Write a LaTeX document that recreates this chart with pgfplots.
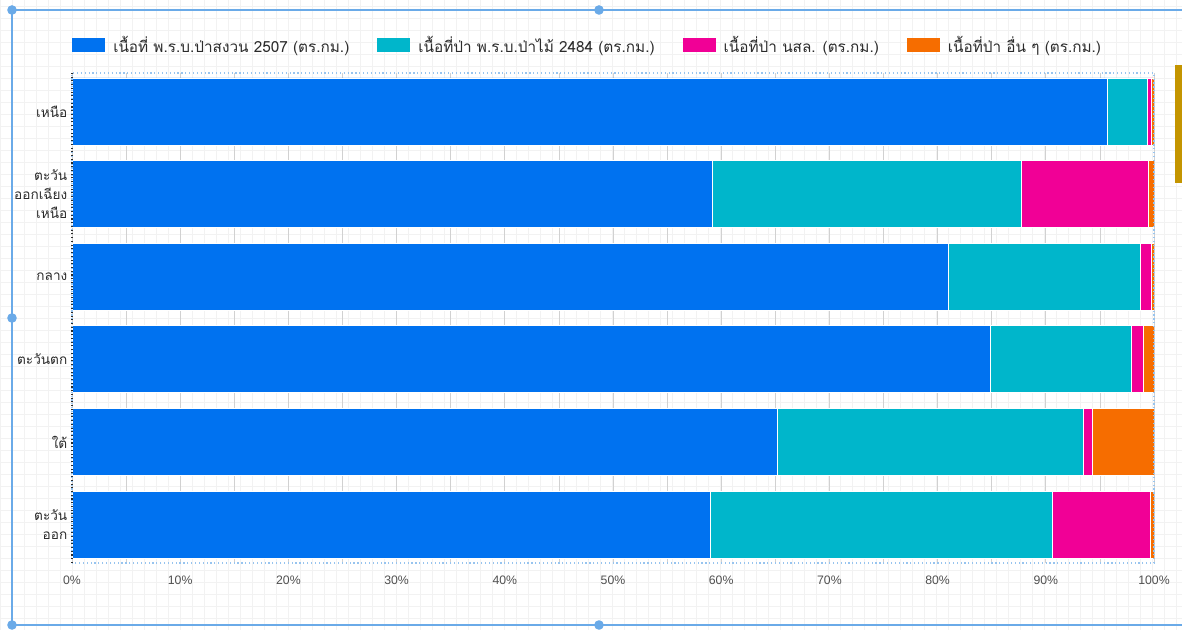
\documentclass[border=0pt]{standalone}
\usepackage{fontspec}
\setmainfont{Liberation Sans}
\newfontfamily\thaifont[Script=Thai]{Loma}
\usepackage{pgfplots}
\usepackage{pgfplotstable}
\pgfplotsset{compat=1.18}

\definecolor{cblue}{HTML}{0072F0}
\definecolor{cteal}{HTML}{00B6CB}
\definecolor{cmag}{HTML}{F10096}
\definecolor{corange}{HTML}{F66D00}
\definecolor{selframe}{HTML}{6AAAE8}
\definecolor{gold}{HTML}{C49500}
\definecolor{txt}{HTML}{2B2B2B}
\definecolor{ticktxt}{HTML}{505050}

% share of each region's forest area, percent
\pgfplotstableread{
cat reserve forestact nsl other
0 95.7 3.7 0.4 0.2
1 59.2 28.5 11.8 0.5
2 81.0 17.7 1.1 0.2
3 84.9 13.0 1.1 1.0
4 65.2 28.3 0.8 5.7
5 59.0 31.6 9.1 0.3
}\regions

\begin{document}
\begin{tikzpicture}
\useasboundingbox (0,0) rectangle (886.5pt,472.5pt);
% canvas grid
\draw[black!5, line width=0.4pt, step=9pt] (0,0) grid (886.5pt,472.5pt);

\begin{axis}[
  at={(54pt,50.25pt)}, anchor=south west,
  scale only axis, width=811.5pt, height=367.5pt,
  xbar stacked, bar width=50.25pt,
  y dir=reverse,
  xmin=0, xmax=100, ymin=-0.466, ymax=5.464,
  xtick={0,10,...,100},
  minor xtick={5,15,...,95},
  xticklabel={\pgfmathprintnumber[assume math mode=true]{\tick}\%},
  xticklabel style={font=\fontsize{9.2}{11}\selectfont, text=ticktxt, yshift=-6pt},
  ytick={0,...,5},
  yticklabels={เหนือ, {ตะวัน\\ออกเฉียง\\เหนือ}, กลาง, ตะวันตก, ใต้, {ตะวัน\\ออก}},
  yticklabel style={font=\thaifont\fontsize{10.2}{14.25}\selectfont, align=right, text=txt},
  major tick length=0pt, minor tick length=0pt,
  xmajorgrids, xminorgrids,
  major grid style={black!18, line width=0.6pt},
  minor grid style={black!18, line width=0.6pt},
  axis line style={draw=none},
  legend columns=4,
  legend image code/.code={\fill[#1, draw=none] (0pt,-5.6pt) rectangle (24.75pt,5.6pt);},
  legend style={at={(0,1.0571)}, anchor=west, draw=none, fill=none, inner sep=0pt,
    font=\thaifont\fontsize{11.5}{13}\selectfont, text=txt,
    /tikz/every odd column/.append style={column sep=4pt},
    /tikz/every even column/.append style={column sep=19pt}},
]
\addplot[fill=cblue, draw=white, line width=0.6pt] table[x=reserve, y=cat] {\regions};
\addplot[fill=cteal, draw=white, line width=0.6pt] table[x=forestact, y=cat] {\regions};
\addplot[fill=cmag, draw=white, line width=0.6pt] table[x=nsl, y=cat] {\regions};
\addplot[fill=corange, draw=white, line width=0.6pt] table[x=other, y=cat] {\regions};
\legend{เนื้อที่ พ.ร.บ.ป่าสงวน 2507 (ตร.กม.), เนื้อที่ป่า พ.ร.บ.ป่าไม้ 2484 (ตร.กม.), เนื้อที่ป่า นสล. (ตร.กม.), เนื้อที่ป่า อื่น ๆ (ตร.กม.)}
\end{axis}

% plot-area selection border
\draw[selframe!70, dotted, line width=0.9pt] (54pt,50.25pt) rectangle (865.5pt,417.75pt);
\draw[txt, dotted, line width=0.8pt] (54pt,50.25pt) -- (54pt,417.75pt);

% editor selection frame
\draw[selframe, line width=1.8pt] (886.5pt,465pt) -- (9pt,465pt) -- (9pt,3.75pt) -- (886.5pt,3.75pt);
\foreach \p in {(9pt,465pt),(449.25pt,465pt),(9pt,234pt),(9pt,3.75pt),(449.25pt,3.75pt)}
  \fill[selframe] \p circle (3.6pt);
\fill[gold] (881.25pt,335.25pt) rectangle (886.5pt,423.75pt);
\end{tikzpicture}
\end{document}
